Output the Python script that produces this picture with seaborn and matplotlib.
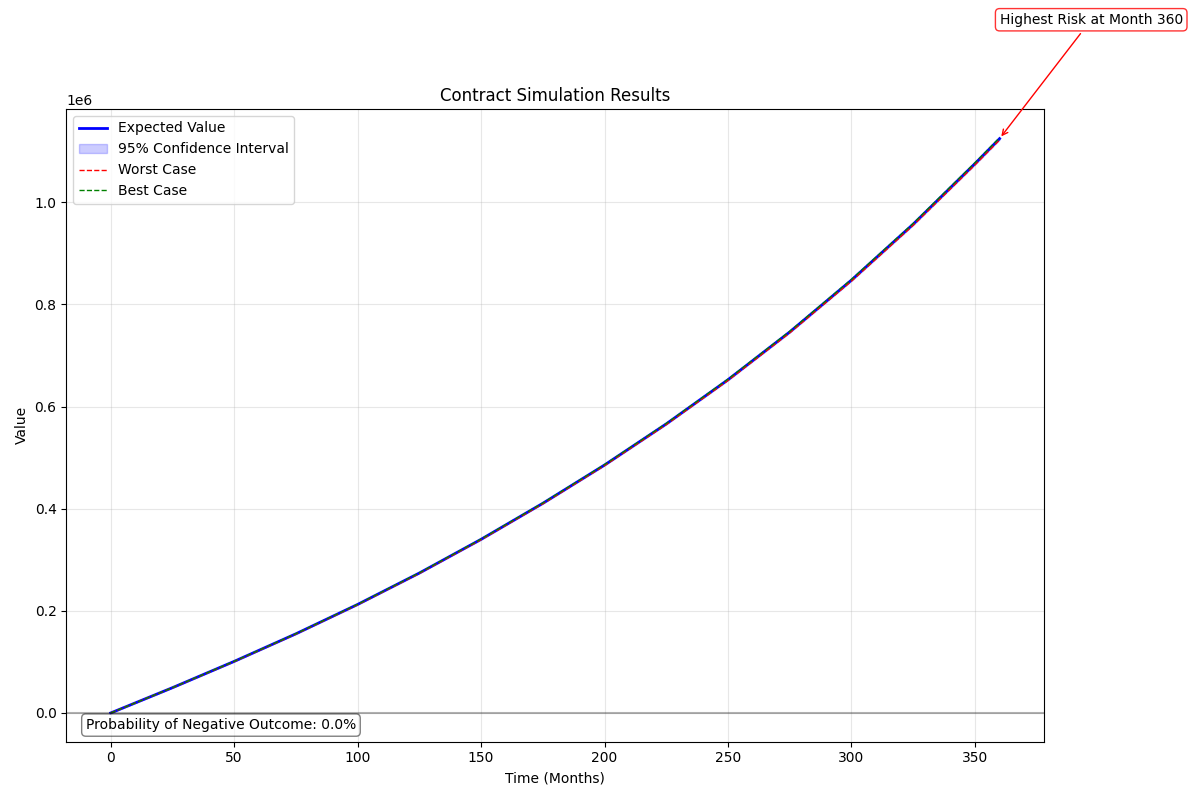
import numpy as np
import pandas as pd
import seaborn as sns
import matplotlib.pyplot as plt


# -----------------------------
# DATA
# -----------------------------
months = [0, 25, 50, 75, 100, 125, 150, 175, 200, 225, 250, 275, 300, 325, 350, 360]

# values in thousands
expected = [0, 49.5, 101.0, 155.0, 212.5, 274.0, 340.0, 410.5, 485.5, 566.0,
            652.5, 746.0, 847.5, 957.0, 1075.5, 1124.5]
ci_low = [0, 49.4, 100.8, 154.7, 212.1, 273.5, 339.3, 409.7, 484.5, 564.9,
          651.2, 744.5, 845.8, 955.1, 1073.3, 1122.3]
ci_high = [0, 49.6, 101.1, 155.2, 212.8, 274.3, 340.4, 411.0, 486.1, 566.7,
           653.3, 746.9, 848.5, 958.1, 1076.8, 1125.8]
worst = [0, 49.4, 100.7, 154.6, 212.0, 273.3, 339.2, 409.5, 484.3, 564.6,
         650.9, 744.1, 845.4, 954.6, 1072.8, 1121.7]
best = [0, 49.6, 101.2, 155.2, 212.8, 274.4, 340.5, 411.1, 486.2, 566.8,
        653.5, 747.1, 848.8, 958.4, 1077.1, 1126.2]

prob_negative = 0.0
risk_month = 360

df = pd.DataFrame({
    "month": months,
    "expected": np.array(expected) * 1000,
    "ci_low": np.array(ci_low) * 1000,
    "ci_high": np.array(ci_high) * 1000,
    "worst": np.array(worst) * 1000,
    "best": np.array(best) * 1000,
})


# -----------------------------
# PLOT
# -----------------------------
fig, ax = plt.subplots(figsize=(12, 8), dpi=100)

sns.lineplot(data=df, x="month", y="expected", color="blue", linewidth=2,
             label="Expected Value", ax=ax)
ax.fill_between(df["month"], df["ci_low"], df["ci_high"], color="blue",
                alpha=0.2, label="95% Confidence Interval")
sns.lineplot(data=df, x="month", y="worst", color="red", linestyle="--",
             linewidth=1, label="Worst Case", ax=ax)
sns.lineplot(data=df, x="month", y="best", color="green", linestyle="--",
             linewidth=1, label="Best Case", ax=ax)

ax.axhline(0, color="black", alpha=0.3)

ax.set_title("Contract Simulation Results")
ax.set_xlabel("Time (Months)")
ax.set_ylabel("Value")
ax.grid(True, alpha=0.3)
ax.legend(loc="upper left")

# annotate the end point
end_val = df["expected"].iloc[-1]
ax.annotate(f"Highest Risk at Month {risk_month}",
            xy=(risk_month, end_val),
            xytext=(risk_month, end_val * 1.2),
            arrowprops=dict(arrowstyle="->", color="red"),
            bbox=dict(boxstyle="round", facecolor="white", edgecolor="red",
                      alpha=0.8))

ax.text(0.02, 0.02, f"Probability of Negative Outcome: {prob_negative:.1f}%",
        transform=ax.transAxes,
        bbox=dict(boxstyle="round", facecolor="white", alpha=0.5))

plt.tight_layout()
plt.savefig("out.png", dpi=100)
